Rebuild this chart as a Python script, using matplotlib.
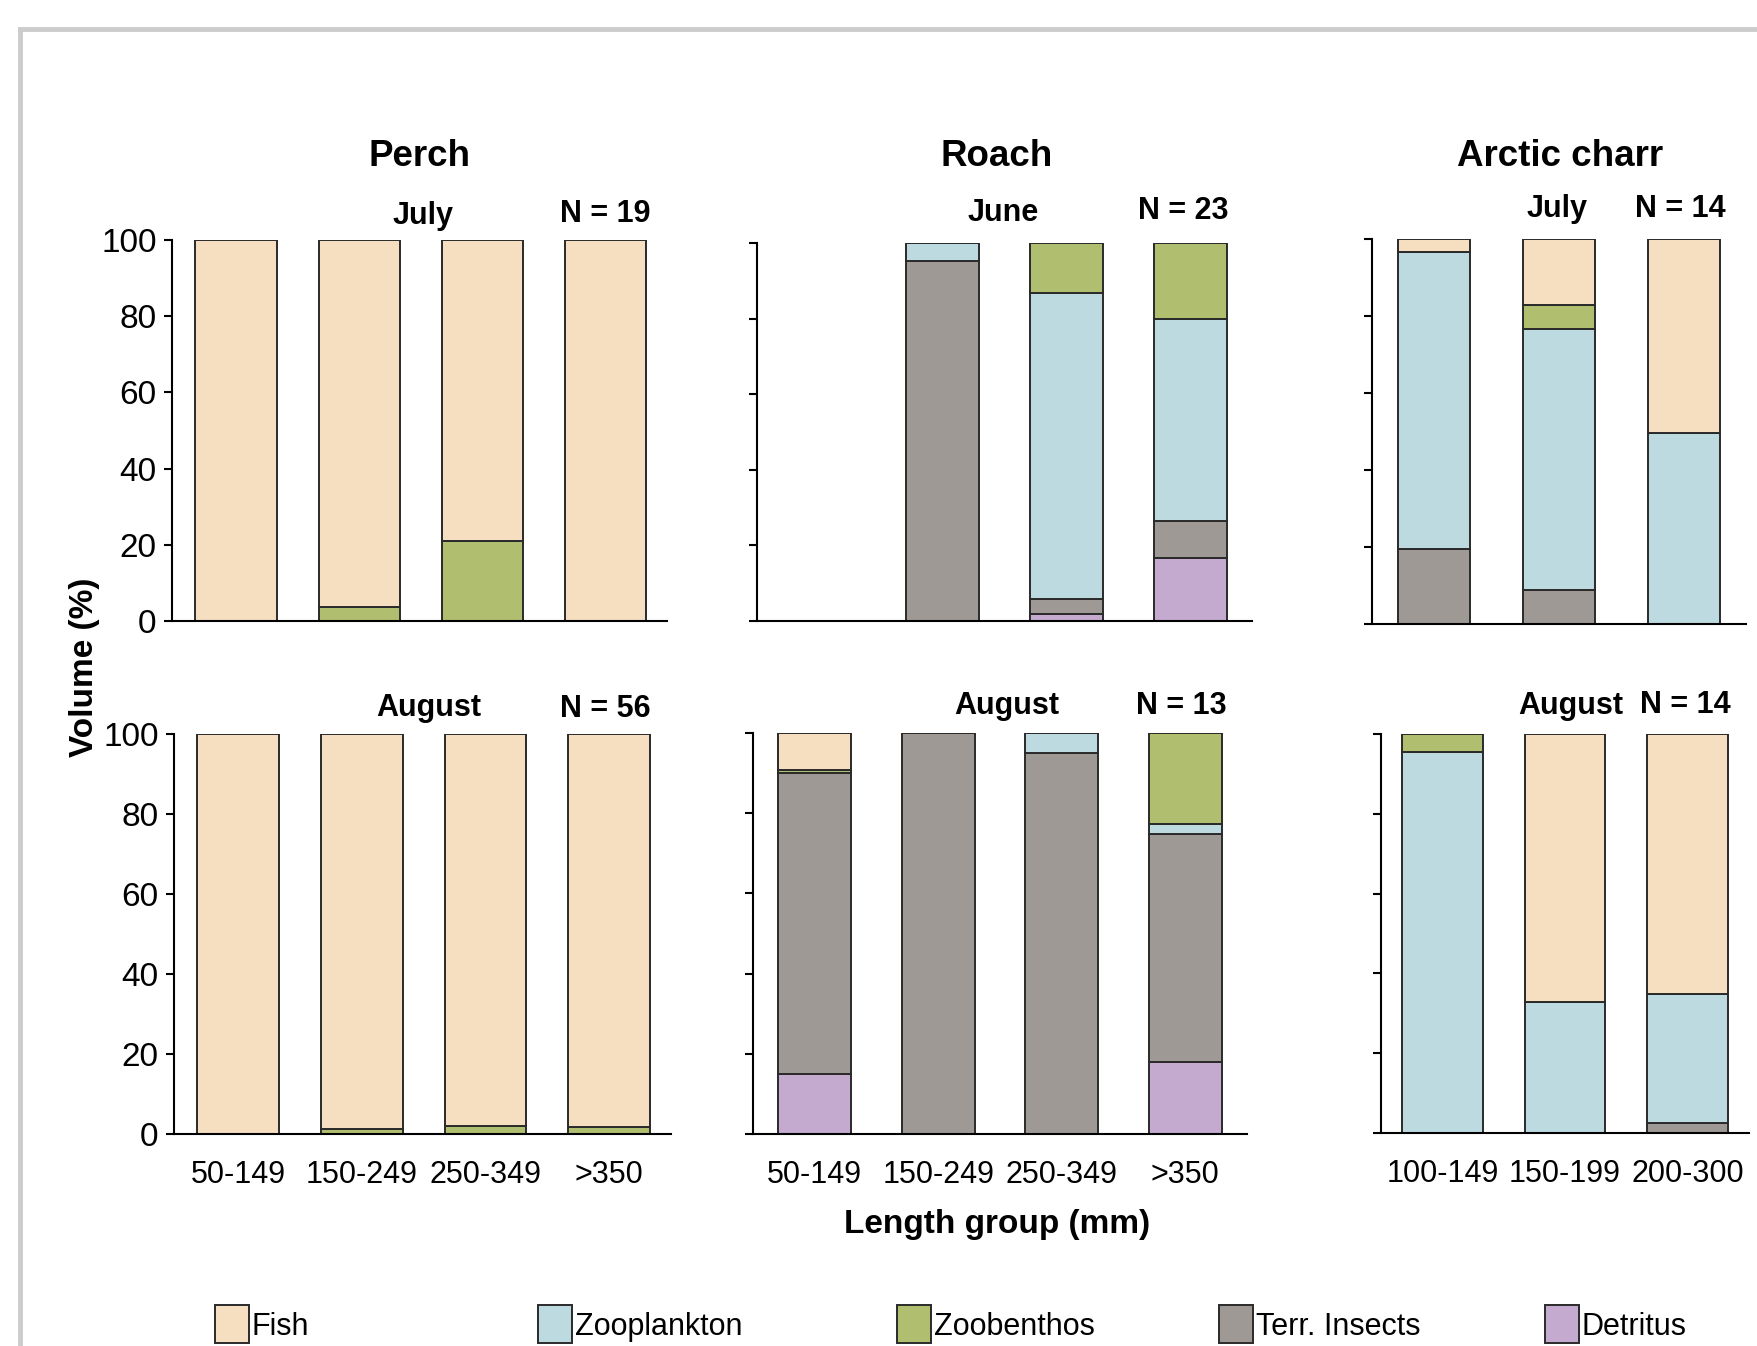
import matplotlib
matplotlib.use('Agg')
import matplotlib.pyplot as plt
from matplotlib.patches import Rectangle
from matplotlib.lines import Line2D

plt.rcParams['font.family'] = ['Liberation Sans', 'DejaVu Sans']

# diet categories, stacked bottom -> top
categories = ['Detritus', 'Terr. Insects', 'Zooplankton', 'Zoobenthos', 'Fish']
colors = {
    'Fish': '#F6DFC0',
    'Zooplankton': '#BDDAE1',
    'Zoobenthos': '#B0BE70',
    'Terr. Insects': '#9E9995',
    'Detritus': '#C5AAD0',
}

perch_groups = ['50-149', '150-249', '250-349', '>350']
roach_groups = ['50-149', '150-249', '250-349', '>350']
charr_groups = ['100-149', '150-199', '200-300']

# volume (%) per length group, order as in categories
perch_july = [
    [0, 0, 0, 0],
    [0, 0, 0, 0],
    [0, 0, 0, 0],
    [0, 3.7, 21.0, 0],
    [100, 96.3, 79.0, 100],
]
perch_aug = [
    [0, 0, 0, 0],
    [0, 0, 0, 0],
    [0, 0, 0, 0],
    [0, 1.3, 1.9, 1.8],
    [100, 98.7, 98.1, 98.2],
]
roach_june = [
    [0, 0, 1.8, 16.7],
    [0, 95.2, 3.9, 9.7],
    [0, 4.8, 81.2, 53.4],
    [0, 0, 13.1, 20.2],
    [0, 0, 0, 0],
]
roach_aug = [
    [14.9, 0, 0, 17.9],
    [75.1, 100, 94.9, 56.9],
    [0, 0, 5.1, 2.4],
    [0.7, 0, 0, 22.8],
    [9.3, 0, 0, 0],
]
charr_july = [
    [0, 0, 0],
    [19.5, 8.9, 0],
    [77.1, 67.6, 49.6],
    [0, 6.3, 0],
    [3.4, 17.2, 50.4],
]
charr_aug = [
    [0, 0, 0],
    [0, 0, 2.4],
    [95.6, 32.9, 32.5],
    [4.4, 0, 0],
    [0, 67.1, 65.1],
]

W, H = 1758, 1346
fig = plt.figure(figsize=(W / 100, H / 100), dpi=100)


def fx(x):
    return x / W


def fy(y):
    return 1 - y / H


def panel(left, right, top, bottom, groups, values, width, xlim, show_labels):
    ax = fig.add_axes([fx(left), fy(bottom), fx(right - left), (bottom - top) / H])
    base = [0] * len(groups)
    xs = list(range(len(groups)))
    for cat, vals in zip(categories, values):
        ax.bar(xs, vals, width, bottom=base, color=colors[cat],
               edgecolor='#2a2a2a', linewidth=1.4)
        base = [b + v for b, v in zip(base, vals)]
    ax.set_xlim(*xlim)
    ax.set_ylim(0, 100)
    ax.spines['top'].set_visible(False)
    ax.spines['right'].set_visible(False)
    ax.spines['left'].set_linewidth(1.5)
    ax.spines['bottom'].set_linewidth(1.5)
    ax.set_yticks([0, 20, 40, 60, 80, 100])
    ax.tick_params(axis='y', length=6, width=1.5, pad=5, labelsize=24,
                   labelleft=show_labels)
    ax.set_xticks(xs)
    if bottom > 800:
        ax.set_xticklabels(groups)
    else:
        ax.set_xticklabels([])
    ax.tick_params(axis='x', length=0, pad=19, labelsize=22)
    return ax


panel(172, 667, 240, 621, perch_groups, perch_july, 0.66, (-0.52, 3.5), True)
panel(174, 671, 734, 1134, perch_groups, perch_aug, 0.66, (-0.52, 3.5), True)
panel(757, 1252, 243, 621, roach_groups, roach_june, 0.59, (-0.5, 3.5), False)
panel(753, 1247, 733, 1134, roach_groups, roach_aug, 0.59, (-0.5, 3.5), False)
panel(1372, 1746, 239, 624, charr_groups, charr_july, 0.58, (-0.5, 2.5), False)
panel(1381, 1749, 734, 1133, charr_groups, charr_aug, 0.66, (-0.5, 2.5), False)

# species titles
for name, x in [('Perch', 420), ('Roach', 997), ('Arctic charr', 1560)]:
    fig.text(fx(x), fy(156), name, ha='center', va='center',
             fontsize=26.5, fontweight='bold')

# month and sample size
month_labels = [
    ('July', 423, 216), ('N = 19', 605, 214),
    ('June', 1003, 213), ('N = 23', 1183, 211),
    ('July', 1557, 209), ('N = 14', 1680, 209),
    ('August', 429, 708), ('N = 56', 605, 709),
    ('August', 1007, 706), ('N = 13', 1181, 706),
    ('August', 1571, 706), ('N = 14', 1685, 705),
]
for txt, x, y in month_labels:
    fig.text(fx(x), fy(y), txt, ha='center', va='center',
             fontsize=22, fontweight='bold')

fig.text(fx(85), fy(667), 'Volume (%)', rotation=90, ha='center', va='center',
         fontsize=24, fontweight='bold')
fig.text(fx(997), fy(1224), 'Length group (mm)', ha='center', va='center',
         fontsize=24, fontweight='bold')

# legend along the bottom
legend_items = ['Fish', 'Zooplankton', 'Zoobenthos', 'Terr. Insects', 'Detritus']
legend_x = [215, 538, 897, 1219, 1545]
for name, x in zip(legend_items, legend_x):
    fig.patches.append(Rectangle((fx(x), fy(1343)), 34 / W, 38 / H,
                                 transform=fig.transFigure, facecolor=colors[name],
                                 edgecolor='#2a2a2a', linewidth=1.4))
    fig.text(fx(x + 37), fy(1327), name, ha='left', va='center', fontsize=22)

# slide frame
frame = '#cccccc'
fig.add_artist(Line2D([fx(20), 1], [fy(29), fy(29)], color=frame, linewidth=3.5,
                      transform=fig.transFigure))
fig.add_artist(Line2D([fx(20), fx(20)], [fy(29), 0], color=frame, linewidth=3.5,
                      transform=fig.transFigure))

fig.savefig('out.png', dpi=100)
